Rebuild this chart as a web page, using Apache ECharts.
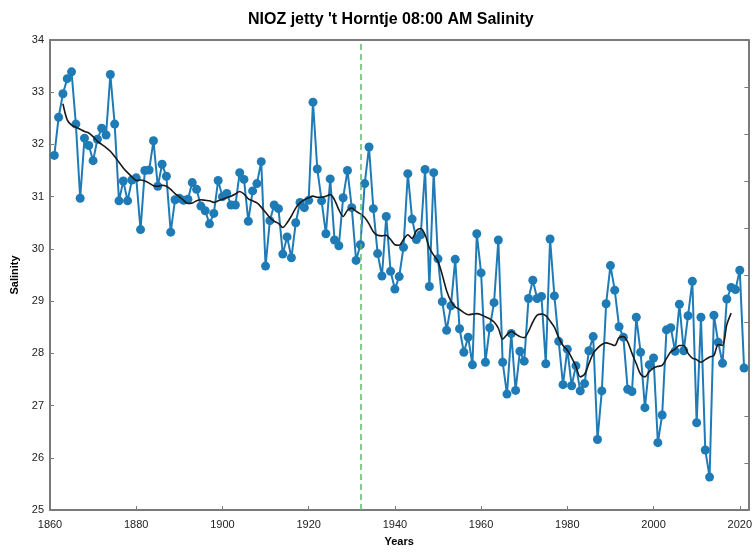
<!DOCTYPE html>
<html>
<head>
<meta charset="utf-8">
<script src="https://cdn.jsdelivr.net/npm/echarts@6/dist/echarts.min.js"></script>
<style>
  html, body { margin: 0; padding: 0; background: #fff; }
  #chart { width: 755px; height: 552px; }
</style>
</head>
<body>
<div id="chart"></div>
<script>
// Yearly 08:00 AM salinity at the NIOZ jetty, 1861-2021
const firstYear = 1861;
const salinity = [
  31.79, 32.52, 32.97, 33.26, 33.39, 32.39, 30.97, 32.12, 31.98, 31.69,
  32.10, 32.31, 32.18, 33.34, 32.39, 30.92, 31.30, 30.92, 31.32, 31.36,
  30.37, 31.50, 31.51, 32.07, 31.20, 31.62, 31.39, 30.32, 30.94, 30.97,
  30.93, 30.95, 31.27, 31.14, 30.82, 30.73, 30.48, 30.68, 31.31, 31.00,
  31.06, 30.84, 30.84, 31.46, 31.33, 30.53, 31.11, 31.25, 31.67, 29.67,
  30.54, 30.84, 30.77, 29.90, 30.23, 29.83, 30.50, 30.89, 30.79, 30.93,
  32.81, 31.53, 30.92, 30.29, 31.34, 30.17, 30.06, 30.98, 31.50, 30.79,
  29.78, 30.08, 31.25, 31.95, 30.77, 29.91, 29.48, 30.62, 29.57, 29.23,
  29.47, 30.03, 31.44, 30.57, 30.18, 30.27, 31.52, 29.28, 31.46, 29.81,
  28.99, 28.44, 28.91, 29.80, 28.47, 28.02, 28.31, 27.78, 30.29, 29.54,
  27.83, 28.49, 28.97, 30.17, 27.83, 27.22, 28.38, 27.29, 28.04, 27.85,
  29.05, 29.40, 29.05, 29.09, 27.80, 30.19, 29.10, 28.23, 27.40, 28.08,
  27.38, 27.76, 27.28, 27.42, 28.05, 28.32, 26.35, 27.28, 28.95, 29.68,
  29.21, 28.51, 28.31, 27.31, 27.27, 28.69, 28.02, 26.96, 27.78, 27.91,
  26.29, 26.82, 28.45, 28.49, 28.04, 28.94, 28.05, 28.72, 29.38, 26.67,
  28.69, 26.15, 25.63, 28.73, 28.21, 27.81, 29.04, 29.26, 29.22, 29.59,
  27.72
];

// Smoothed salinity trend, 1863-2018
const smoothStart = 1863;
const smoothed = [
  32.78, 32.47, 32.37, 32.33, 32.29, 32.25, 32.22, 32.15, 32.06, 32.00,
  31.94, 31.87, 31.77, 31.66, 31.55, 31.46, 31.38, 31.31, 31.32, 31.30,
  31.26, 31.21, 31.20, 31.22, 31.20, 31.14, 31.06, 31.00, 30.93, 30.87,
  30.88, 30.92, 30.94, 30.93, 30.92, 30.89, 30.92, 30.95, 30.98, 31.01,
  31.05, 31.10, 31.05, 30.96, 30.92, 30.88, 30.80, 30.70, 30.60, 30.53,
  30.49, 30.41, 30.50, 30.63, 30.78, 30.88, 30.94, 30.98, 31.01, 30.99,
  30.99, 31.01, 31.04, 30.94, 30.75, 30.62, 30.74, 30.78, 30.72, 30.67,
  30.60, 30.48, 30.33, 30.26, 30.25, 30.26, 30.18, 30.08, 30.07, 30.18,
  30.27, 30.20, 30.35, 30.39, 30.27, 30.02, 29.88, 29.76, 29.50, 29.20,
  29.00, 28.89, 28.84, 28.78, 28.74, 28.75, 28.76, 28.74, 28.70, 28.66,
  28.60, 28.48, 28.27, 28.36, 28.42, 28.37, 28.32, 28.30, 28.42, 28.60,
  28.73, 28.75, 28.72, 28.62, 28.50, 28.30, 28.15, 28.06, 27.92, 27.75,
  27.55, 27.60, 27.80, 28.00, 28.10, 28.17, 28.20, 28.18, 28.15, 28.30,
  28.32, 28.22, 28.00, 27.80, 27.60, 27.55, 27.65, 27.72, 27.75, 27.77,
  27.90, 28.03, 28.08, 28.15, 28.15, 28.00, 27.91, 27.88, 27.83, 27.88,
  27.93, 27.96, 28.17, 28.15, 28.55, 28.77
];

// Year marked by the dashed reference line
const markerYear = 1932;

const yTicks = { min: 25, max: 34, step: 1 };
const xTicks = { min: 1860, max: 2022, step: 20 };

const salinityPoints = salinity.map((v, i) => [firstYear + i, v]);
const smoothPoints = smoothed.map((v, i) => [smoothStart + i, v]);

const font = 'Liberation Sans, Arial, sans-serif';
const frameColor = '#7a7a7a';

const chart = echarts.init(document.getElementById('chart'), null, { renderer: 'canvas' });
chart.setOption({
  animation: false,
  backgroundColor: '#ffffff',
  title: {
    text: "NIOZ jetty 't Horntje 08:00 AM Salinity",
    left: 243,
    top: 7,
    textStyle: { fontFamily: font, fontSize: 16, fontWeight: 'bold', color: '#000' }
  },
  grid: { left: 50, right: 5, top: 40, bottom: 39 },
  xAxis: [
    {
      type: 'value',
      position: 'bottom',
      min: xTicks.min,
      max: xTicks.max,
      interval: xTicks.step,
      name: 'Years',
      nameLocation: 'middle',
      nameGap: 26,
      nameTextStyle: { fontFamily: font, fontSize: 11, fontWeight: 'bold', color: '#000' },
      axisLine: { show: true, lineStyle: { color: frameColor, width: 2 } },
      axisTick: { show: true, inside: true, length: 4, lineStyle: { color: frameColor } },
      axisLabel: {
        fontFamily: font, fontSize: 11, color: '#222', margin: 9,
        formatter: v => (v % xTicks.step === 0 ? String(v) : '')
      },
      splitLine: { show: false }
    },
    {
      type: 'value',
      position: 'top',
      min: xTicks.min,
      max: xTicks.max,
      interval: xTicks.step,
      axisLine: { show: true, lineStyle: { color: frameColor, width: 2 } },
      axisTick: { show: false },
      axisLabel: { show: false },
      splitLine: { show: false }
    }
  ],
  yAxis: [
    {
      type: 'value',
      position: 'left',
      min: yTicks.min,
      max: yTicks.max,
      interval: yTicks.step,
      name: 'Salinity',
      nameLocation: 'middle',
      nameRotate: 90,
      nameGap: 25,
      nameTextStyle: { fontFamily: font, fontSize: 11, fontWeight: 'bold', color: '#000' },
      axisLine: { show: true, lineStyle: { color: frameColor, width: 2 } },
      axisTick: { show: true, inside: true, length: 4, lineStyle: { color: frameColor } },
      axisLabel: { fontFamily: font, fontSize: 11, color: '#222', margin: 6 },
      splitLine: { show: false }
    },
    {
      type: 'value',
      position: 'right',
      min: 0,
      max: 10,
      interval: 1,
      axisLine: { show: true, lineStyle: { color: frameColor, width: 2 } },
      axisTick: { show: true, inside: true, length: 4, lineStyle: { color: frameColor } },
      axisLabel: { show: false },
      splitLine: { show: false }
    }
  ],
  series: [
    {
      name: 'Salinity',
      type: 'line',
      xAxisIndex: 0,
      yAxisIndex: 0,
      data: salinityPoints,
      symbol: 'circle',
      symbolSize: 9,
      showAllSymbol: true,
      lineStyle: { color: '#1f7bb6', width: 2 },
      itemStyle: { color: '#1f7bb6' },
      z: 2,
      markLine: {
        silent: true,
        symbol: 'none',
        label: { show: false },
        lineStyle: { color: '#5fba6a', type: [6, 4], width: 1.5 },
        data: [{ xAxis: markerYear }]
      }
    },
    {
      name: 'Smoothed',
      type: 'line',
      xAxisIndex: 0,
      yAxisIndex: 0,
      data: smoothPoints,
      symbol: 'none',
      smooth: 0.3,
      lineStyle: { color: '#1a1a1a', width: 1.6 },
      z: 3
    }
  ]
});
</script>
</body>
</html>
